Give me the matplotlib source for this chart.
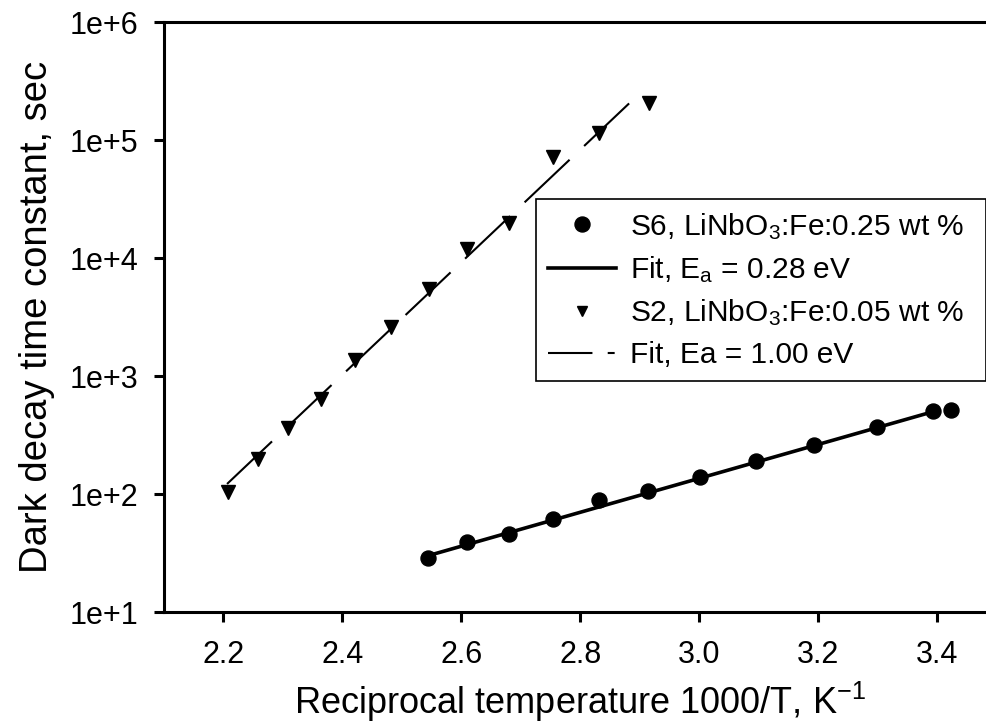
import matplotlib
matplotlib.use('Agg')
import matplotlib.pyplot as plt
from matplotlib.lines import Line2D

plt.rcParams['font.family'] = ['Liberation Sans', 'DejaVu Sans']
plt.rcParams['mathtext.fontset'] = 'custom'
plt.rcParams['mathtext.rm'] = 'Liberation Sans'
plt.rcParams['mathtext.it'] = 'Liberation Sans:italic'
plt.rcParams['lines.scale_dashes'] = False

# S6, LiNbO3:Fe 0.25 wt %
s6_x = [2.544, 2.610, 2.680, 2.754, 2.832, 2.914, 3.002, 3.095, 3.193, 3.299, 3.393, 3.424]
s6_y = [28.5, 39.0, 45.8, 61.8, 88.5, 107, 139, 191, 260, 372, 505, 515]
s6_fit_x = [2.544, 3.393]
s6_fit_y = [30.0, 498]

# S2, LiNbO3:Fe 0.05 wt %
s2_x = [2.207, 2.258, 2.309, 2.364, 2.421, 2.482, 2.545, 2.610, 2.681, 2.754, 2.832, 2.915]
s2_y = [104.5, 198, 360, 638, 1366, 2618, 5430, 11860, 19700, 72300, 115000, 207000]
s2_fit_x = [2.206, 2.891]
s2_fit_y = [121.6, 225000]

xticks = [2.2, 2.4, 2.6, 2.8, 3.0, 3.2, 3.4]
xticklabels = ['2.2', '2.4', '2.6', '2.8', '3.0', '3.2', '3.4']
yticks = [1e1, 1e2, 1e3, 1e4, 1e5, 1e6]
yticklabels = ['1e+1', '1e+2', '1e+3', '1e+4', '1e+5', '1e+6']

labels = ['S6, LiNbO$_3$:Fe:0.25 wt %',
          'Fit, E$_\\mathrm{a}$ = 0.28 eV',
          'S2, LiNbO$_3$:Fe:0.05 wt %',
          'Fit, Ea = 1.00 eV']

fig = plt.figure(figsize=(9.87, 7.28), dpi=100)
ax = fig.add_axes([164/987, 116/728, 832.5/987, 590/728])

ax.plot(s6_fit_x, s6_fit_y, color='black', lw=2.6, solid_capstyle='butt')
ax.plot(s2_fit_x, s2_fit_y, color='black', lw=1.5, dashes=(44.6, 14.4))
ax.plot(s6_x, s6_y, 'o', color='black', ms=10.8, linestyle='none')
ax.plot(s2_x, s2_y, 'v', color='black', ms=10.5, linestyle='none')

ax.set_yscale('log')
ax.set_xlim(2.1, 3.5)
ax.set_ylim(1e1, 1e6)
ax.set_xticks(xticks)
ax.set_xticklabels(xticklabels)
ax.set_yticks(yticks)
ax.set_yticklabels(yticklabels)
ax.minorticks_off()

ax.spines['right'].set_visible(False)
for s in ['left', 'bottom', 'top']:
    ax.spines[s].set_linewidth(2.2)
ax.tick_params(axis='both', direction='out', length=7.2, width=2.2, labelsize=22)
ax.tick_params(axis='x', pad=13)
ax.tick_params(axis='y', pad=11)
ax.tick_params(top=False, right=False)

ax.set_xlabel('Reciprocal temperature 1000/T, K$^{-1}$', fontsize=26, labelpad=7)
ax.set_ylabel('Dark decay time constant, sec', fontsize=27.5, labelpad=11)

handles = [Line2D([], [], marker='o', color='black', ms=10.8, linestyle='none'),
           Line2D([], [], color='black', lw=2.6),
           Line2D([], [], marker='v', color='black', ms=7.5, linestyle='none'),
           Line2D([], [], color='black', lw=1.5, dashes=(32, 11, 5, 80))]
leg = ax.legend(handles, labels, loc='upper left',
                bbox_to_anchor=(535.7/987, (728 - 379)/728, 450.3/987, 180/728),
                bbox_transform=fig.transFigure, mode='expand', borderaxespad=0, fontsize=21.5,
                frameon=True, fancybox=False, framealpha=1, edgecolor='black',
                handlelength=2.3, handletextpad=0.45, borderpad=0.4, labelspacing=0.42)
leg.get_frame().set_linewidth(1.2)

fig.savefig('out.png', dpi=100)
